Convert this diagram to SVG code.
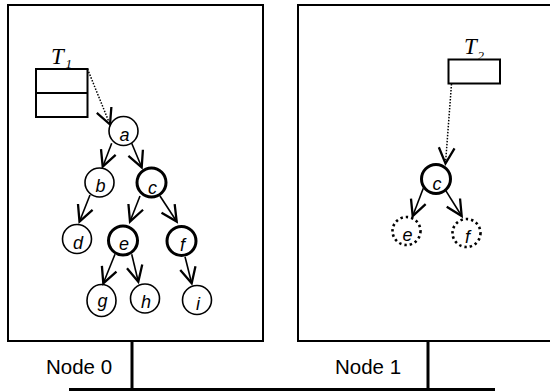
<svg xmlns="http://www.w3.org/2000/svg" width="550" height="392" viewBox="0 0 550 392">
<style>
.box{fill:#fff;stroke:#000;stroke-width:2}
.wire{stroke:#000;stroke-width:3;fill:none}
.tbl{fill:#fff;stroke:#000;stroke-width:2}
.n{fill:#fff;stroke:#000;stroke-width:1.6}
.nb{fill:#fff;stroke:#000;stroke-width:3}
.nd{fill:#fff;stroke:#000;stroke-width:2.6;stroke-dasharray:2.4 3}
.lbl{font-family:"Liberation Sans",Arial,sans-serif;font-style:italic;font-size:18px;text-anchor:middle;fill:#000}
.cap{font-family:"Liberation Sans",Arial,sans-serif;font-size:20.5px;fill:#000}
.tl{font-family:"Liberation Serif","Times New Roman",serif;font-style:italic;font-size:23px;fill:#000}
.ts{font-family:"Liberation Serif","Times New Roman",serif;font-style:italic;font-size:13px;fill:#000}
.e{stroke:#000;stroke-width:1.6;fill:none;marker-end:url(#ah)}
.dot{stroke:#000;stroke-width:1.5;fill:none;stroke-dasharray:1.5 1.5;marker-end:url(#ah)}
</style>
<defs>
<marker id="ah" markerUnits="userSpaceOnUse" markerWidth="20" markerHeight="20" viewBox="-12 -7 14 14" refX="0" refY="0" orient="auto" overflow="visible">
<path d="M-11,-5.5 L0,0 L-11,5.5" fill="none" stroke="#000" stroke-width="1.6" stroke-dasharray="none"/>
</marker>
</defs>
<rect width="550" height="392" fill="#fff"/>
<g id="node0">
<rect class="box" x="8" y="5" width="255" height="336"/>
<text class="cap" x="46" y="374">Node 0</text>
</g>
<g id="node1">
<rect class="box" x="298" y="5" width="256" height="336"/>
<text class="cap" x="335" y="374">Node 1</text>
</g>
<g id="network">
<line class="wire" x1="132" y1="341" x2="132" y2="390"/>
<line class="wire" x1="428" y1="341" x2="428" y2="390"/>
<line class="wire" x1="69" y1="389.5" x2="495" y2="389.5"/>
</g>
<g id="T1">
<rect class="tbl" x="36" y="69" width="51.5" height="48"/>
<line x1="36" y1="93" x2="87.5" y2="93" stroke="#000" stroke-width="2"/>
<text class="tl" x="51" y="63.5">T</text>
<text class="ts" x="65.5" y="68">1</text>
</g>
<g id="T2">
<rect class="tbl" x="448.5" y="59.5" width="51.5" height="24"/>
<text class="tl" x="464" y="53.5">T</text>
<text class="ts" x="477.5" y="59.5">2</text>
</g>
<g id="left-a"><circle class="n" cx="123.5" cy="131" r="14.5"/><text class="lbl" x="124.5" y="141">a</text></g>
<g id="left-b"><circle class="n" cx="99.5" cy="182.5" r="14.5"/><text class="lbl" x="100.5" y="192">b</text></g>
<g id="left-c"><circle class="nb" cx="151.5" cy="182.5" r="14.5"/><text class="lbl" x="152.5" y="194">c</text></g>
<g id="left-d"><circle class="n" cx="77" cy="239" r="14.5"/><text class="lbl" x="78" y="248.5">d</text></g>
<g id="left-e"><circle class="nb" cx="123" cy="240.5" r="14.5"/><text class="lbl" x="124" y="250">e</text></g>
<g id="left-f"><circle class="nb" cx="181.5" cy="241" r="14.5"/><text class="lbl" x="182.5" y="250.5">f</text></g>
<g id="left-g"><ellipse class="n" cx="101.5" cy="300.5" rx="14.5" ry="16"/><text class="lbl" x="102.5" y="307">g</text></g>
<g id="left-h"><circle class="n" cx="145" cy="298.5" r="14.5"/><text class="lbl" x="146" y="308">h</text></g>
<g id="left-i"><circle class="n" cx="197" cy="300" r="14.5"/><text class="lbl" x="198" y="309.5">i</text></g>
<g id="right-c"><circle class="nb" cx="436" cy="179" r="14.5"/><text class="lbl" x="437" y="190">c</text></g>
<g id="right-e"><circle class="nd" cx="406.5" cy="231" r="14"/><text class="lbl" x="407.5" y="240.5">e</text></g>
<g id="right-f"><circle class="nd" cx="466.5" cy="233" r="14"/><text class="lbl" x="467.5" y="242.5">f</text></g>
<g id="connectors">
<line class="dot" x1="87.5" y1="69" x2="110" y2="124.5"/>
<line class="dot" x1="451.5" y1="84" x2="445.5" y2="163.5"/>
<line class="e" x1="111.7" y1="143.3" x2="102.7" y2="166.7"/>
<line class="e" x1="131.7" y1="143.3" x2="141.7" y2="167.3"/>
<line class="e" x1="90" y1="195" x2="79.5" y2="221.5"/>
<line class="e" x1="140" y1="196" x2="130" y2="221.5"/>
<line class="e" x1="160" y1="196" x2="176.7" y2="221.5"/>
<line class="e" x1="115" y1="254.3" x2="103.3" y2="283.3"/>
<line class="e" x1="131.7" y1="254.3" x2="138.3" y2="281.7"/>
<line class="e" x1="185" y1="256.7" x2="191.7" y2="283.3"/>
<line class="e" x1="423.3" y1="188.3" x2="412.7" y2="216"/>
<line class="e" x1="445" y1="189.3" x2="461.7" y2="216"/>
</g>
</svg>
